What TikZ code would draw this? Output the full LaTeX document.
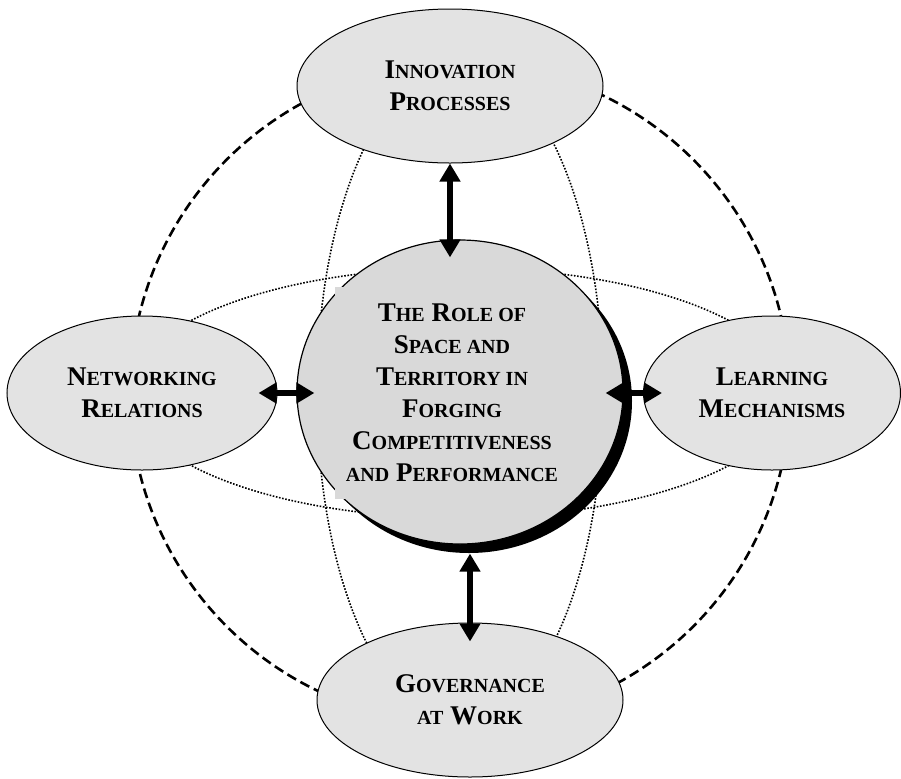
\documentclass[tikz,border=0pt]{standalone}
\usepackage{fontspec}
\setmainfont{Liberation Serif}
\usetikzlibrary{shapes.geometric,arrows.meta,calc,shadows}
\definecolor{ovalgray}{HTML}{E3E3E3}
\definecolor{coregray}{HTML}{D9D9D9}
\newcommand\sm[1]{{\fontsize{10pt}{16pt}\selectfont #1}}

\begin{document}
\begin{tikzpicture}[x=0.5pt, y=-0.5pt]
        \tikzstyle{bubble}=[ellipse, draw, line width=0.5pt, fill=ovalgray, inner sep=0pt, align=center, font=\fontsize{13.5pt}{16pt}\selectfont\bfseries]
        \tikzstyle{rim}=[line width=1.3pt, dash pattern=on 5pt off 2.5pt]
        \tikzstyle{grid}=[line width=0.8pt, dash pattern=on 0.8pt off 0.8pt]
        \tikzstyle{link}=[line width=3pt, {Triangle[width=10pt,length=9pt]}-{Triangle[width=10pt,length=9pt]}]
        \useasboundingbox (0,0) rectangle (901,778);
        \coordinate (mid) at (460,393);
        % globe behind everything
        \draw[rim] (mid) circle[radius=330];
        \draw[grid] (mid) ellipse[x radius=143, y radius=330];
        \draw[grid] (mid) ellipse[x radius=330, y radius=125];
        % the four themes
        \node[bubble, minimum width=153pt, minimum height=77pt] (innov) at (450,86) {I\sm{NNOVATION}\\P\sm{ROCESSES}};
        \node[bubble, minimum width=135pt, minimum height=77pt] (net) at (142,393) {N\sm{ETWORKING}\\R\sm{ELATIONS}};
        \node[bubble, minimum width=128.5pt, minimum height=77pt] (learn) at (772,393) {L\sm{EARNING}\\M\sm{ECHANISMS}};
        \node[bubble, minimum width=153pt, minimum height=77pt] (gov) at (470,700) {G\sm{OVERNANCE}\\\sm{AT} W\sm{ORK}};
        % core
        \node[ellipse, draw, line width=0.6pt, fill=coregray, minimum width=163pt, minimum height=152pt, drop shadow={shadow xshift=4.5pt, shadow yshift=-4.5pt, fill=black, opacity=1}] (core) at (460,392) {};
        \node[fill=coregray, minimum width=117.5pt, minimum height=106pt, inner sep=0pt, align=center, font=\fontsize{13.5pt}{16pt}\selectfont\bfseries] (title) at (452,393) {T\sm{HE} R\sm{OLE OF}\\S\sm{PACE AND}\\T\sm{ERRITORY IN}\\F\sm{ORGING}\\C\sm{OMPETITIVENESS}\\\sm{AND} P\sm{ERFORMANCE}};
        % links
        \draw[link] (innov.south) -- ($(innov.south |- core.north)+(0,-9pt)$);
        \draw[link] ($(gov.north |- core.south)+(0,-4.5pt)$) -- ($(gov.north)+(0,-9.5pt)$);
        \draw[link] ($(net.east)+(-9.5pt,0)$) -- ($(net.east -| core.west)+(9pt,0)$);
        \draw[link] ($(learn.west -| core.east)+(-9pt,0)$) -- ($(learn.west)+(9.5pt,0)$);
    \end{tikzpicture}
\end{document}
